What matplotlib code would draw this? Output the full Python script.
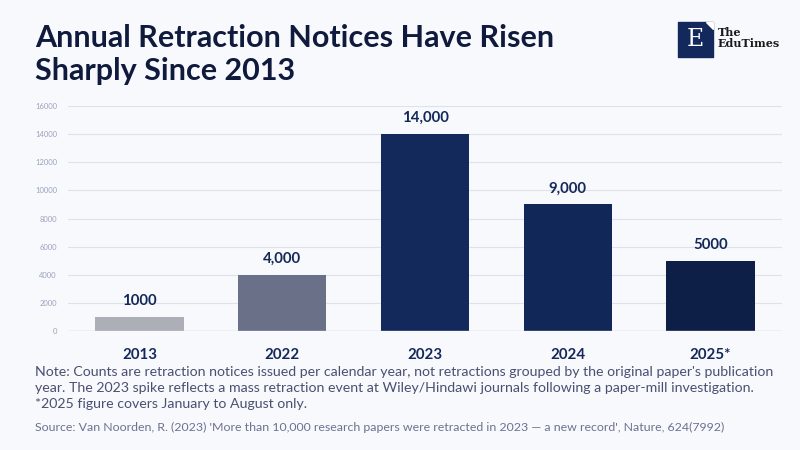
import matplotlib.pyplot as plt
from matplotlib.patches import Rectangle, Polygon

years = ['2013', '2022', '2023', '2024', '2025*']
notices = [1000, 4000, 14000, 9000, 5000]
value_labels = ['1000', '4,000', '14,000', '9,000', '5000']
bar_colors = ['#adafb8', '#6b7089', '#13295b', '#112757', '#0d1f47']
y_ticks = [0, 2000, 4000, 6000, 8000, 10000, 12000, 14000, 16000]

bg = '#f8f9fd'
navy = '#14295a'

plt.rcParams['font.family'] = ['Lato', 'DejaVu Sans']

fig = plt.figure(figsize=(8, 4.5), dpi=100, facecolor=bg)
ax = fig.add_axes([0.085, 0.2644, 0.8925, 0.5])
ax.set_facecolor(bg)

x = range(len(years))
ax.bar(x, notices, width=0.62, color=bar_colors, zorder=3)
for i, v in enumerate(notices):
    ax.text(i, v + 650, value_labels[i], ha='center', va='bottom',
            fontsize=10.8, fontweight='bold', color=navy)

ax.set_xlim(-0.5, len(years) - 0.5)
ax.set_ylim(0, 16000)
ax.set_yticks(y_ticks)
ax.set_yticklabels([str(t) for t in y_ticks], fontsize=5.5, color='#9aa3bd')
ax.set_xticks(list(x))
ax.set_xticklabels(years, fontsize=10.8, fontweight='bold', color=navy)
ax.tick_params(axis='both', length=0)
ax.tick_params(axis='x', pad=12)
ax.tick_params(axis='y', pad=8)
ax.grid(axis='y', color='#dfe2ea', linewidth=0.8, zorder=0)
for s in ax.spines.values():
    s.set_visible(False)
ax.axhline(0, color='#cfd3dd', linewidth=1, zorder=4)

# title
fig.text(35 / 800, 1 - 24 / 450, 'Annual Retraction Notices Have Risen\nSharply Since 2013',
         ha='left', va='top', fontsize=22, fontweight='bold', color='#0f1a3d',
         linespacing=1.22)

# logo
fig.patches.append(Rectangle((678 / 800, 1 - 57 / 450), 35 / 800, 35 / 450,
                             transform=fig.transFigure, color='#13295b'))
fig.patches.append(Polygon([(706 / 800, 1 - 22 / 450), (713 / 800, 1 - 22 / 450),
                            (713 / 800, 1 - 29 / 450)], closed=True,
                           transform=fig.transFigure, color='white'))
fig.text(695.5 / 800, 1 - 40 / 450, 'E', ha='center', va='center', fontsize=17,
         color='white', family='DejaVu Serif')
fig.text(718 / 800, 1 - 38 / 450, 'The\nEduTimes', ha='left', va='center', fontsize=8,
         color='#1a1a1a', family='DejaVu Serif', fontweight='bold', linespacing=1.0)

# notes
note = ("Note: Counts are retraction notices issued per calendar year, not retractions grouped by the original paper's publication\n"
        "year. The 2023 spike reflects a mass retraction event at Wiley/Hindawi journals following a paper-mill investigation.\n"
        "*2025 figure covers January to August only.")
fig.text(35 / 800, 1 - 366 / 450, note, ha='left', va='top', fontsize=10.2,
         color='#4a5070', linespacing=1.42)
fig.text(35 / 800, 1 - 427 / 450,
         "Source: Van Noorden, R. (2023) 'More than 10,000 research papers were retracted in 2023 \u2014 a new record', Nature, 624(7992)",
         ha='left', va='center', fontsize=8.9, color='#6b7290')

fig.savefig('out.png', dpi=100, facecolor=bg)
